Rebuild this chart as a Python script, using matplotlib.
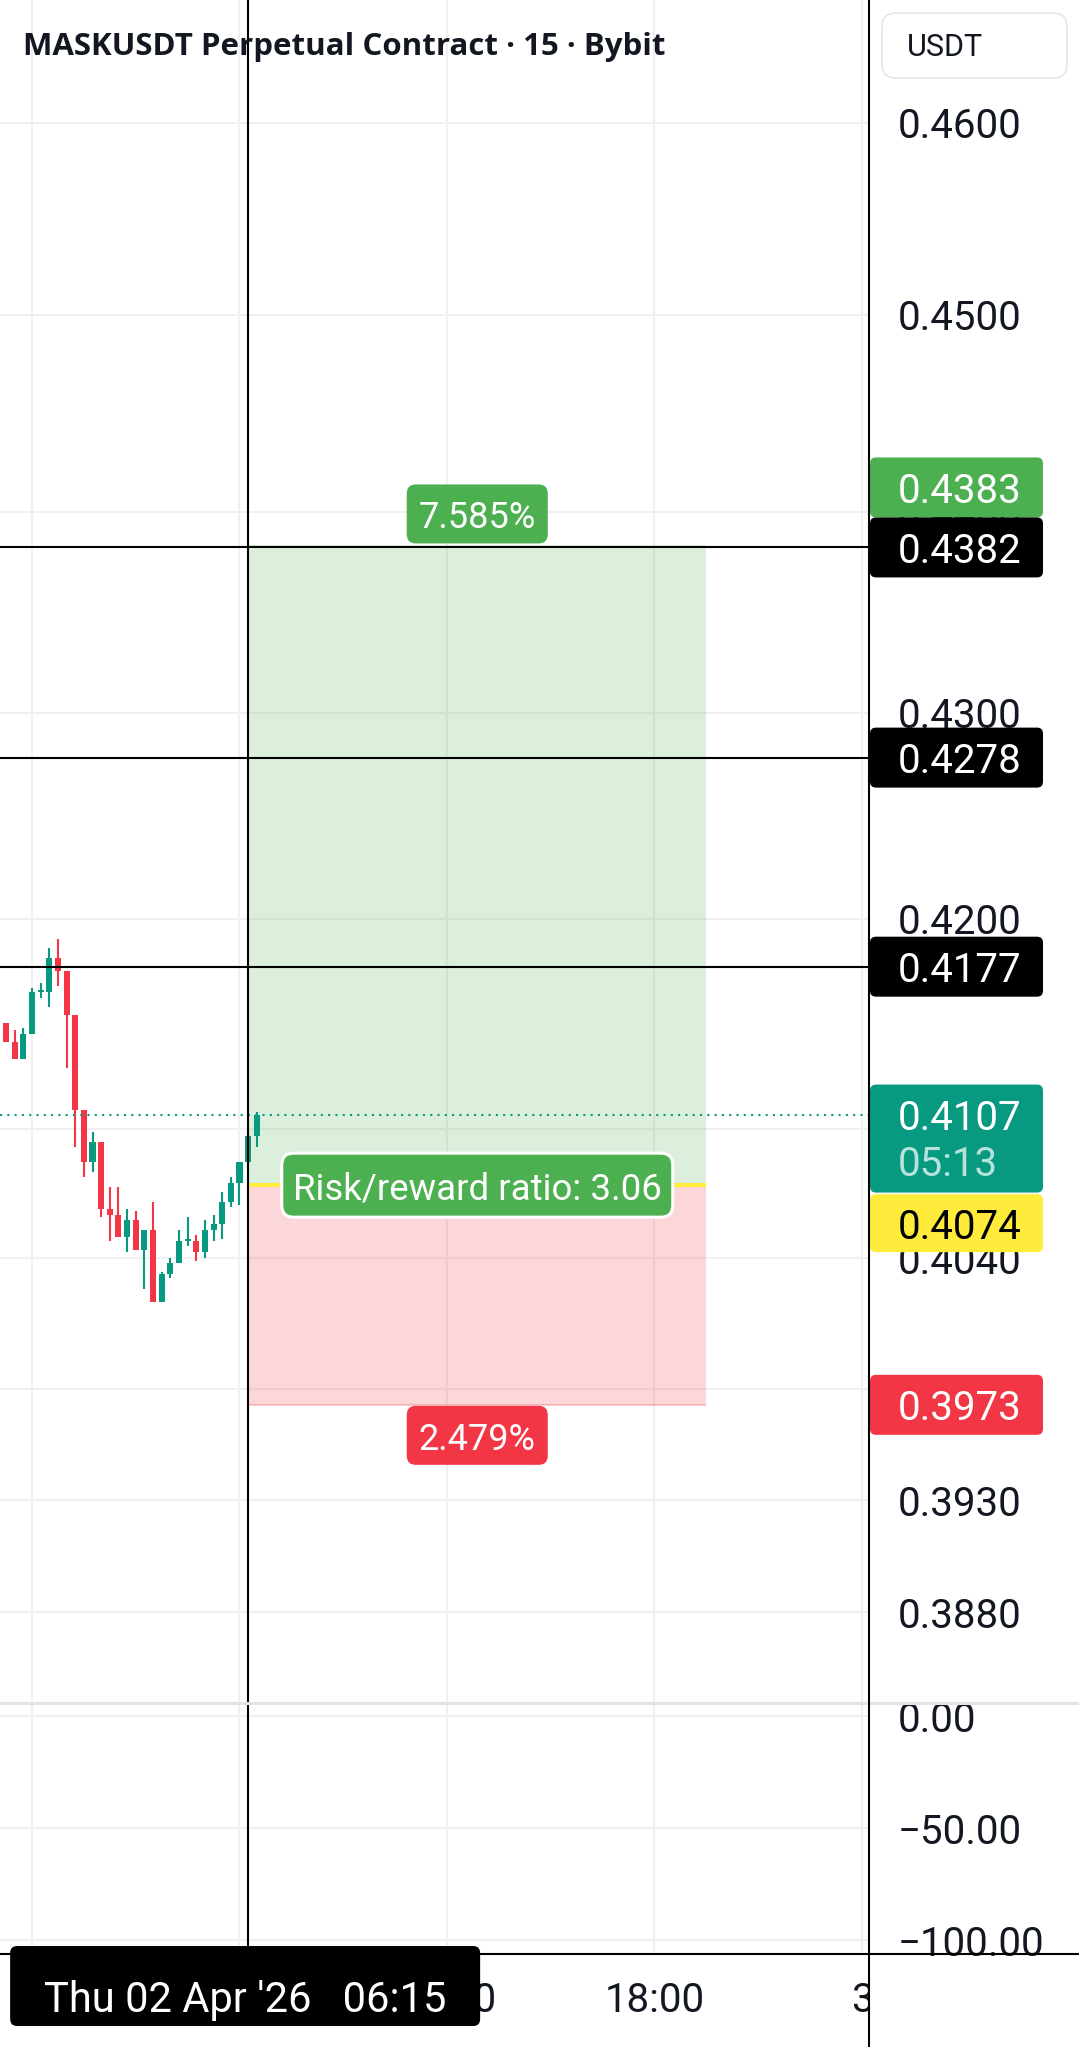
import numpy as np
import matplotlib.pyplot as plt
from matplotlib.patches import FancyBboxPatch
from matplotlib.lines import Line2D
from matplotlib.ticker import NullLocator
from matplotlib.transforms import Bbox, IdentityTransform, blended_transform_factory

plt.rcParams['font.family'] = ['Roboto', 'DejaVu Sans']

# 15m bars, index 0 = Thu 02 Apr 00:00
bar_idx = list(range(-4, 27))
opens = [0.4161, 0.4150, 0.4141, 0.4133, 0.4145, 0.4165, 0.4165, 0.4181, 0.4175, 0.4154,
         0.4109, 0.4085, 0.4094, 0.4063, 0.4060, 0.4050, 0.4058, 0.4044, 0.4053, 0.4020,
         0.4033, 0.4038, 0.4048, 0.4048, 0.4043, 0.4053, 0.4056, 0.4066, 0.4075, 0.4085, 0.4097]
highs = [0.4163, 0.4150, 0.4147, 0.4148, 0.4167, 0.4169, 0.4186, 0.4190, 0.4175, 0.4154,
         0.4109, 0.4099, 0.4094, 0.4073, 0.4073, 0.4063, 0.4062, 0.4053, 0.4066, 0.4034,
         0.4040, 0.4053, 0.4059, 0.4051, 0.4058, 0.4060, 0.4071, 0.4078, 0.4085, 0.4101, 0.4108]
lows = [0.4148, 0.4141, 0.4133, 0.4133, 0.4145, 0.4162, 0.4158, 0.4168, 0.4129, 0.4092,
        0.4078, 0.4080, 0.4059, 0.4048, 0.4050, 0.4043, 0.4044, 0.4026, 0.4020, 0.4020,
        0.4031, 0.4038, 0.4046, 0.4039, 0.4040, 0.4048, 0.4049, 0.4064, 0.4065, 0.4082, 0.4092]
closes = [0.4150, 0.4141, 0.4133, 0.4145, 0.4165, 0.4166, 0.4181, 0.4175, 0.4154, 0.4109,
          0.4085, 0.4094, 0.4063, 0.4060, 0.4050, 0.4058, 0.4044, 0.4053, 0.4020, 0.4033,
          0.4038, 0.4048, 0.4049, 0.4043, 0.4053, 0.4056, 0.4066, 0.4075, 0.4085, 0.4097, 0.4107]

price_ticks = [0.4600, 0.4500, 0.4400, 0.4300, 0.4200, 0.4100, 0.4040, 0.3980, 0.3930, 0.3880]
osc_ticks = [0, -50, -100]
osc_labels = ['0.00', '\u221250.00', '\u2212100.00']
time_ticks = [0, 24, 48, 72, 96]
time_labels = ['', '', '12:00', '18:00', '3']

h_levels = [0.4382, 0.4278, 0.4177]
last_price = 0.4107
countdown = '05:13'
entry, target, stop = 0.4074, 0.4383, 0.3973
pos_start, pos_end = 25, 78
target_pct = '7.585%'
stop_pct = '2.479%'
rr_text = 'Risk/reward ratio: 3.06'
cross_idx = 25
cross_label = "Thu 02 Apr '26   06:15"

UP, DOWN = '#089981', '#f23645'
GREEN, YELLOW = '#4caf50', '#ffeb3b'
TXT = '#131722'
GRID = '#f0f0f0'

W, H = 1079, 2047
AX_R = 869          # right edge of plot panes (px)
PANE_SPLIT = 344    # price / oscillator border, from bottom (px)
TIME_H = 93         # time axis height (px)
FS = 29

fig = plt.figure(figsize=(W / 100, H / 100), dpi=100)
ax = fig.add_axes([0, PANE_SPLIT / H, AX_R / W, (H - PANE_SPLIT) / H])
ax2 = fig.add_axes([0, TIME_H / H, AX_R / W, (PANE_SPLIT - TIME_H) / H])
xlim = (-3.701, 96.81)

# price pane
ax.set_yscale('log')
ax.set_ylim(0.38399, 0.46649)
ax.set_xlim(*xlim)
ax.yaxis.tick_right()
ax.set_yticks(price_ticks)
ax.set_yticklabels([f'{v:.4f}' for v in price_ticks])
ax.yaxis.set_minor_locator(NullLocator())
ax.set_xticks(time_ticks)
ax.set_xticklabels([])
ax.tick_params(axis='both', length=0, labelsize=FS, labelcolor=TXT, pad=20.9)
ax.grid(True, color=GRID, lw=1.5)
ax.set_axisbelow(True)
for s in ax.spines.values():
    s.set_visible(False)

o = np.array(opens); c = np.array(closes)
cols = [UP if cc >= oo else DOWN for oo, cc in zip(opens, closes)]
ax.vlines(bar_idx, lows, highs, color=cols, lw=1.5, zorder=3)
body = np.maximum(np.abs(c - o), 0.00006)
ax.bar(bar_idx, body, bottom=np.minimum(o, c), width=0.7, color=cols, lw=0, zorder=3)

# long position tool
ax.fill_between([pos_start, pos_end], entry, target, color=GREEN, alpha=0.2, lw=0, zorder=2)
ax.fill_between([pos_start, pos_end], stop, entry, color='#ee3a4a', alpha=0.2, lw=0, zorder=2)
ax.hlines(stop, pos_start, pos_end, color=DOWN, alpha=0.25, lw=1.5, zorder=2)
ax.hlines(entry, pos_start, pos_end, color=YELLOW, lw=3, zorder=4)

for lv in h_levels:
    ax.axhline(lv, color='black', lw=1.5, zorder=4)
ax.axhline(last_price, color=UP, lw=1.5, ls=(0, (1, 2.5)), zorder=4)
ax.axvline(cross_idx, color='black', lw=1.5, zorder=5)

# oscillator pane
ax2.set_xlim(*xlim)
ax2.set_ylim(-106.26, 6.04)
ax2.yaxis.tick_right()
ax2.set_yticks(osc_ticks)
ax2.set_yticklabels(osc_labels)
ax2.set_xticks(time_ticks)
ax2.set_xticklabels([])
ax2.tick_params(axis='both', length=0, labelsize=FS, labelcolor=TXT, pad=20.9)
ax2.grid(True, color=GRID, lw=1.5)
ax2.set_axisbelow(True)
for s in ax2.spines.values():
    s.set_visible(False)
ax2.axvline(cross_idx, color='black', lw=1.5)

# time axis labels
tt = blended_transform_factory(ax.transData, IdentityTransform())
for t, lab in zip(time_ticks, time_labels):
    if lab:
        txt = fig.text(t, TIME_H - 42, lab, transform=tt, ha='center', va='center_baseline',
                       fontsize=FS, color=TXT, zorder=2)
        txt.set_clip_box(Bbox.from_extents(0, 0, AX_R, TIME_H))
        txt.set_clip_on(True)

idt = IdentityTransform()


def ypx(p):
    return ax.transData.transform((0, p))[1]


def xpx(i):
    return ax.transData.transform((i, entry))[0]


def box(x0, y0, x1, y1, fc, r=7, ec='none', lw=0, z=1):
    fig.add_artist(FancyBboxPatch((x0, y0), x1 - x0, y1 - y0,
                                  boxstyle=f'round,pad=0,rounding_size={r}',
                                  fc=fc, ec=ec, lw=lw, transform=idt, zorder=z))


def label(x, y, s, color, size=FS, ha='left', **kw):
    fig.text(x, y, s, transform=idt, ha=ha, va='center_baseline', fontsize=size, color=color, **kw)


# pane borders
fig.add_artist(Line2D([0, W], [PANE_SPLIT, PANE_SPLIT], color='#e4e4e4', lw=2.2, transform=idt))
fig.add_artist(Line2D([0, W], [TIME_H, TIME_H], color='black', lw=1.5, transform=idt, zorder=3))
fig.add_artist(Line2D([AX_R, AX_R], [0, H], color='black', lw=1.5, transform=idt, zorder=3))

# price scale labels (offset = px shift to avoid overlaps)
scale_boxes = [
    (target, GREEN, 'white', 58),
    (h_levels[0], 'black', 'white', 0),
    (h_levels[1], 'black', 'white', 0),
    (h_levels[2], 'black', 'white', 0),
    (stop, DOWN, 'white', 0),
]
for p, fc, tc, dy in scale_boxes:
    yc = ypx(p) + dy
    box(AX_R + 1, yc - 30, 1043, yc + 30, fc, r=6)
    label(898, yc, f'{p:.4f}', tc)

yc = ypx(last_price)
box(AX_R + 1, yc - 78, 1043, yc + 30, UP, r=6)
label(898, yc, f'{last_price:.4f}', 'white')
label(898, yc - 46, countdown, '#b5e2da')

yc = ypx(entry) - 38
box(AX_R + 1, yc - 29, 1043, yc + 29, YELLOW, r=6)
label(898, yc, f'{entry:.4f}', 'black')

# position labels
cx = xpx((pos_start + pos_end) / 2)
yt = ypx(target)
box(cx - 70.5, yt + 2, cx + 70.5, yt + 61, GREEN, r=9)
label(cx, yt + 31, target_pct, 'white', size=26, ha='center')
ys = ypx(stop)
box(cx - 70.5, ys - 60, cx + 70.5, ys - 1, DOWN, r=9)
label(cx, ys - 31, stop_pct, 'white', size=26, ha='center')
ye = ypx(entry)
box(cx - 195.5, ye - 32, cx + 195.5, ye + 32, GREEN, r=12, ec='white', lw=2.2)
label(cx, ye, rr_text, 'white', size=26.4, ha='center')

# crosshair time label
xc = xpx(cross_idx)
box(xc - 238, 21, xc + 232, TIME_H + 8, 'black', r=7, z=4)
label(xc - 3, TIME_H - 42, cross_label, 'white', size=30, ha='center', zorder=5)

# header
fig.text(23, H - 43, 'MASKUSDT Perpetual Contract \u00b7 15 \u00b7 Bybit', transform=idt,
         ha='left', va='center_baseline', fontsize=22.5, fontweight='bold',
         family=['Open Sans', 'DejaVu Sans'], color=TXT)
box(882, H - 78, 1067, H - 13, 'white', r=14, ec='#e6e6e6', lw=1.2)
label(907, H - 45, 'USDT', TXT, size=22)

fig.savefig('out.png', dpi=100)
